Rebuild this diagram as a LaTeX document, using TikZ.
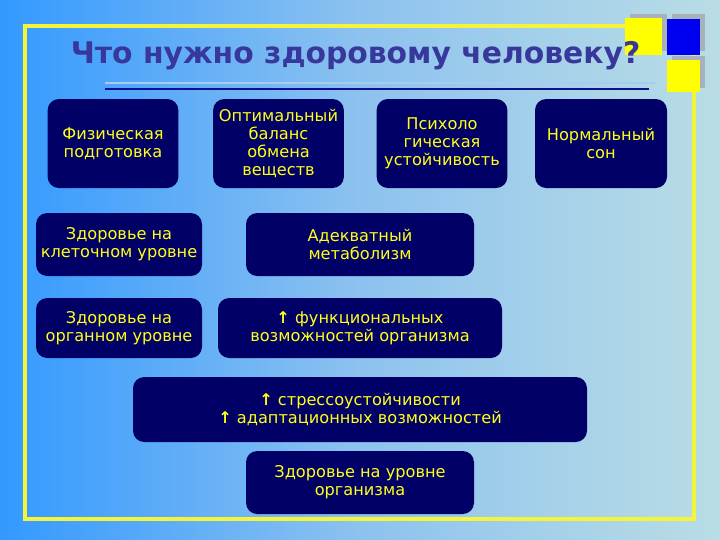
\documentclass[tikz,border=0pt]{standalone}
\usepackage{fontspec}
\setmainfont{DejaVu Sans}
\usepackage{xcolor}
\usetikzlibrary{positioning,calc,backgrounds}
\definecolor{bgleft}{HTML}{3399FF}
\definecolor{bgmid}{HTML}{8DC2EF}
\definecolor{bgright}{HTML}{BADDE5}
\definecolor{navy}{HTML}{000066}
\definecolor{gold}{HTML}{FFFF1A}
\definecolor{frameyellow}{HTML}{F4F43A}
\definecolor{titleink}{HTML}{38389C}
\definecolor{rulenavy}{HTML}{10108F}
\definecolor{rulelight}{HTML}{A3CDF2}
\definecolor{shadowgray}{HTML}{A7B1B9}
\definecolor{squareblue}{HTML}{0000F0}
\definecolor{squareyellow}{HTML}{FFFF00}
\tikzset{
  card/.style={fill=navy, rounded corners=8pt, align=center, inner sep=0pt, text=gold, font=\fontsize{11.5}{12.8}\selectfont},
  topcard/.style={card, minimum width=3.27cm, minimum height=2.225cm},
  sidecard/.style={card, minimum width=4.15cm, minimum height=1.55cm},
  title/.style={font=\fontsize{21.2}{24}\selectfont\bfseries, text=titleink, align=center}
}
\begin{document}
\begin{tikzpicture}
\useasboundingbox (0,0) rectangle (18,-13.5);
\shade[left color=bgleft, right color=bgright, middle color=bgmid] (0,0) rectangle (18,-13.5);
% frame and corner squares
\draw[frameyellow, line width=2.2pt] (0.625,-0.65) rectangle (17.35,-12.975);
\fill[shadowgray] (15.75,-0.35) rectangle (16.675,-1.275);
\fill[shadowgray] (16.8,-0.35) rectangle (17.625,-1.275);
\fill[shadowgray] (16.8,-1.4) rectangle (17.625,-2.2);
\fill[squareyellow] (15.625,-0.45) rectangle (16.55,-1.375);
\fill[squareblue] (16.675,-0.475) rectangle (17.5,-1.375);
\fill[squareyellow] (16.675,-1.5) rectangle (17.5,-2.3);
% title
\node[title] (head) at (8.89,-1.4) {Что нужно здоровому человеку?};
\draw[rulelight, line width=1.2pt] (2.625,-2.075) -- (16.375,-2.075);
\draw[rulenavy, line width=2pt] (2.625,-2.225) -- (16.225,-2.225);
% first row
\node[topcard] (phys) at (2.825,-3.5875) {Физическая\\подготовка};
\node[topcard] (balance) at (6.9625,-3.5875) {Оптимальный\\баланс\\обмена\\веществ};
\node[topcard] (psych) at (11.05,-3.5875) {Психоло\\гическая\\устойчивость};
\node[topcard, minimum width=3.3cm] (sleep) at (15.025,-3.5875) {Нормальный\\сон};
% levels
\node[sidecard, minimum height=1.575cm] (cell) at (2.975,-6.1125) {Здоровье на\\клеточном уровне};
\node[card, minimum width=5.7cm, minimum height=1.575cm] (metab) at (9,-6.1125) {Адекватный\\метаболизм};
\node[sidecard, minimum height=1.5cm] (organ) at (2.975,-8.2) {Здоровье на\\органном уровне};
\node[card, minimum width=7.1cm, minimum height=1.5cm] (func) at (9,-8.2) {{\bfseries ↑} функциональных\\возможностей организма};
\node[card, minimum width=11.35cm, minimum height=1.625cm] (stress) at (9,-10.2375) {{\bfseries ↑} стрессоустойчивости\\{\bfseries ↑} адаптационных возможностей};
\node[card, minimum width=5.7cm, minimum height=1.575cm] (body) at (9,-12.0625) {Здоровье на уровне\\организма};
\end{tikzpicture}
\end{document}
